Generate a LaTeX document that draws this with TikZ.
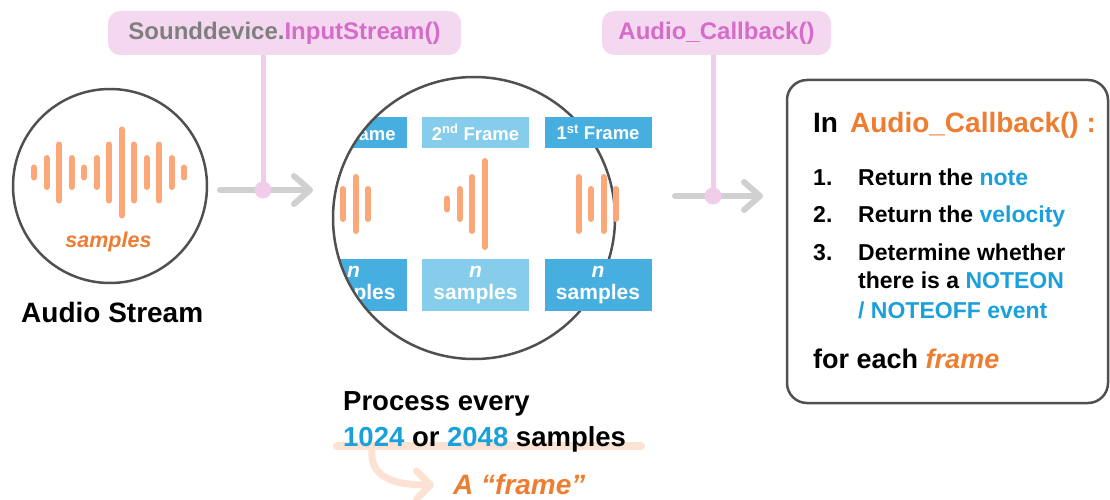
\documentclass[tikz,border=0pt]{standalone}
\usepackage{fontspec}
\setmainfont{Liberation Sans}
\usetikzlibrary{arrows.meta, positioning}

\definecolor{barorange}{HTML}{FBA878}
\definecolor{txtorange}{HTML}{ED7D31}
\definecolor{txtblue}{HTML}{1AA0DA}
\definecolor{txtgray}{HTML}{7F7F7F}
\definecolor{framedark}{HTML}{46AFDF}
\definecolor{framelight}{HTML}{86CCEB}
\definecolor{pinkfill}{HTML}{F4D8F0}
\definecolor{pinkline}{HTML}{F1CDEB}
\definecolor{pinktext}{HTML}{D56CC9}
\definecolor{arrowgray}{HTML}{D0D0D0}
\definecolor{ringgray}{HTML}{505050}
\definecolor{peach}{HTML}{FBE2D3}

\newcommand{\fsz}[1]{\fontsize{#1}{#1}\selectfont}

\tikzset{
  ring/.style={draw=ringgray, line width=2.5pt, circle, inner sep=0pt},
  wavebar/.style={draw=barorange, line width=6pt, line cap=round},
  tag/.style={fill=pinkfill, rounded corners=12pt, inner sep=0pt, minimum height=44pt, font={\bfseries\fsz{24}}},
  tap/.style={draw=pinkline, line width=5pt},
  flow/.style={draw=arrowgray, line width=6pt, line cap=round, -{Straight Barb[length=16pt,width=28pt,round]}},
  curl/.style={draw=peach, line width=7pt, line cap=round, -{Straight Barb[length=14pt,width=28pt,round]}},
  frametop/.style={fill=#1, text=white, inner sep=0pt, minimum width=107pt, minimum height=31pt, font={\bfseries\fsz{18.5}}},
  framebot/.style={fill=#1, text=white, inner sep=0pt, minimum width=107pt, minimum height=52pt, align=center, font={\bfseries\fontsize{21}{22}\selectfont}},
  item/.style={anchor=base west, inner sep=0pt, font={\bfseries\fsz{23}}},
}

\begin{document}
\begin{tikzpicture}[x=1pt, y=-1pt]
\useasboundingbox (0,0) rectangle (1110,500);

% audio stream
\node[ring, minimum size=194pt] (stream) at (110,186) {};
\foreach \x/\h in {34/5, 46.5/14.5, 59/28, 71.5/14.5, 84/5, 96.5/14.5, 109/28,
                   121.5/43, 134/28, 146.5/14.5, 159/28, 171.5/14.5, 184/5}
  \draw[wavebar] (\x,172.5-\h) -- (\x,172.5+\h);
\node[anchor=base, font={\bfseries\itshape\fsz{21.5}}, text=txtorange] (smp) at (108.5,247) {samples};
\node[anchor=base west, inner sep=0pt, font={\bfseries\fsz{28}}] (streamlbl) at (21,322) {Audio Stream};

% magnifier, 3rd frame cut by the lens
\begin{scope}
  \clip (474,218) circle[radius=141pt];
  \node[frametop=framedark] (fr3top) at (353.5,132.5) {3\textsuperscript{rd} Frame};
  \node[framebot=framedark] (fr3bot) at (353.5,285) {\textit{n}\\samples};
  \foreach \x/\h in {343/15, 355.5/27, 368/15}
    \draw[wavebar] (\x,204-\h) -- (\x,204+\h);
\end{scope}
\node[ring, minimum size=282pt] (mag) at (474,218) {};

\node[frametop=framelight] (fr2top) at (475.5,132.5) {2\textsuperscript{nd} Frame};
\node[framebot=framelight] (fr2bot) at (475.5,285) {\textit{n}\\samples};
\foreach \x/\h in {447/5.5, 459.5/15, 472/27, 484.5/43}
  \draw[wavebar] (\x,204-\h) -- (\x,204+\h);

\node[frametop=framedark] (fr1top) at (598,132.5) {1\textsuperscript{st} Frame};
\node[framebot=framedark] (fr1bot) at (598,285) {\textit{n}\\samples};
\foreach \x/\h in {578.5/27, 591/15, 603.5/27, 616/15}
  \draw[wavebar] (\x,204-\h) -- (\x,204+\h);

% tags and arrows
\node[tag, minimum width=353pt, text=txtgray] (sdtag) at (284.5,33) {Sounddevice.\textcolor{pinktext}{InputStream()}};
\node[tag, minimum width=229pt, text=pinktext] (cbtag) at (716.5,33) {Audio\_Callback()};

\coordinate (in1) at (220,190);
\coordinate (out1) at (313,190);
\coordinate (tap1) at (263,190);
\draw[flow] (in1) -- (out1);
\draw[tap] (sdtag.south -| tap1) -- (tap1);
\fill[pinkline] (tap1) circle[radius=8.5pt];

\coordinate (in2) at (675,196);
\coordinate (out2) at (763,196);
\coordinate (tap2) at (713,196);
\draw[flow] (in2) -- (out2);
\draw[tap] (cbtag.south -| tap2) -- (tap2);
\fill[pinkline] (tap2) circle[radius=8.5pt];

% callback box
\node[draw=ringgray, line width=2.5pt, rounded corners=20pt, minimum width=321pt, minimum height=323pt, inner sep=0pt] (cbbox) at (947.5,241.5) {};
\node[anchor=base west, inner sep=0pt, font={\bfseries\fsz{28}}] (intitle) at (813,132) {In\hspace{12pt}\textcolor{txtorange}{Audio\_Callback() :}};
\node[item] (n1) at (813,185) {1.};
\node[item] (t1) at (858,185) {Return the \textcolor{txtblue}{note}};
\node[item] (n2) at (813,222) {2.};
\node[item] (t2) at (858,222) {Return the \textcolor{txtblue}{velocity}};
\node[item] (n3) at (813,260) {3.};
\node[item] (t3) at (858,260) {Determine whether};
\node[item] (t3b) at (858,288) {there is a \textcolor{txtblue}{NOTEON}};
\node[item] (t3c) at (858,318) {\textcolor{txtblue}{/ NOTEOFF event}};
\node[anchor=base west, inner sep=0pt, font={\bfseries\fsz{27}}] (foreach) at (813,368) {for each \textcolor{txtorange}{\itshape frame}};

% process every
\draw[peach, line width=8pt, line cap=round] (337,446) -- (641,446);
\coordinate (hl) at (372,449);
\node[anchor=base west, inner sep=0pt, font={\bfseries\fsz{27.5}}] (proc1) at (343,410) {Process every};
\node[anchor=base west, inner sep=0pt, font={\bfseries\fsz{27.5}}] (proc2) at (343,446) {\textcolor{txtblue}{1024} or \textcolor{txtblue}{2048} samples};
\node[anchor=base west, inner sep=0pt, font={\bfseries\itshape\fsz{28}}, text=txtorange] (framelbl) at (453,494) {A “frame”};
\draw[curl] (hl) .. controls (369,478) and (395,485) .. (434,485);
\end{tikzpicture}
\end{document}
